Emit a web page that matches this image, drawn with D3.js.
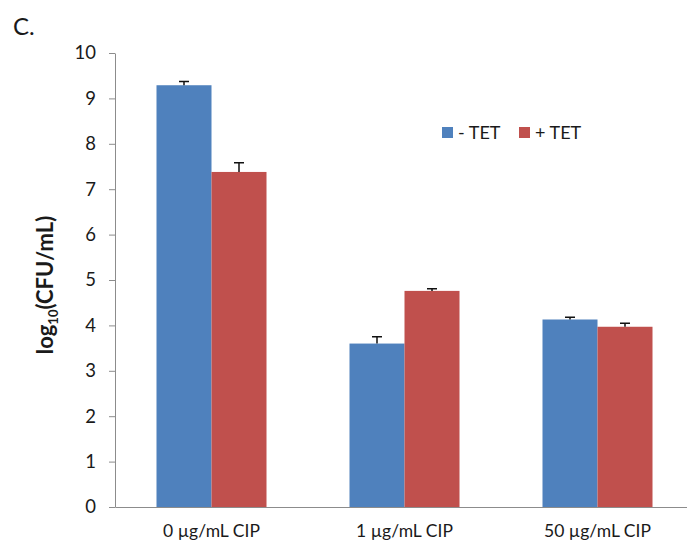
<!DOCTYPE html>
<html>
<head>
<meta charset="utf-8">
<script src="https://cdn.jsdelivr.net/npm/d3@7"></script>
<style>
  body { margin: 0; background: #fff; }
  text { font-family: Lato, "Open Sans", sans-serif; fill: #1a1a1a; }
</style>
</head>
<body>
<div id="chart"></div>
<script>
// values
const categories = ['0 \u00b5g/mL CIP', '1 \u00b5g/mL CIP', '50 \u00b5g/mL CIP'];
const seriesNames = ['- TET', '+ TET'];
const minusTet = [9.29, 3.60, 4.13];
const plusTet = [7.38, 4.76, 3.97];
const minusTetErr = [0.08, 0.15, 0.05];
const plusTetErr = [0.2, 0.05, 0.08];
const yTicks = [0, 1, 2, 3, 4, 5, 6, 7, 8, 9, 10];
const colors = ['#4F81BD', '#C0504D'];

const width = 687, height = 547;
const margin = { top: 53, left: 115, bottom: 39 };

const svg = d3.select('#chart').append('svg')
  .attr('width', width)
  .attr('height', height);

// scales
const x = d3.scaleBand()
  .domain(categories)
  .range([margin.left, margin.left + 579])
  .paddingInner(0.43)
  .paddingOuter(0.215);

const xSub = d3.scaleBand()
  .domain(seriesNames)
  .range([0, x.bandwidth()]);

const y = d3.scaleLinear()
  .domain([0, 10])
  .range([height - margin.bottom - 1, margin.top]);

const rows = categories.map((c, i) => ({
  cat: c,
  vals: [
    { s: seriesNames[0], v: minusTet[i], e: minusTetErr[i] },
    { s: seriesNames[1], v: plusTet[i], e: plusTetErr[i] }
  ]
}));

// bars
const groups = svg.selectAll('g.grp')
  .data(rows)
  .join('g')
  .attr('class', 'grp')
  .attr('transform', d => `translate(${x(d.cat)},0)`);

groups.selectAll('rect')
  .data(d => d.vals)
  .join('rect')
  .attr('x', d => xSub(d.s))
  .attr('y', d => y(d.v))
  .attr('width', xSub.bandwidth())
  .attr('height', d => y(0) - y(d.v))
  .attr('fill', (d, i) => colors[i]);

// error bars (plus side only)
groups.selectAll('path.err')
  .data(d => d.vals)
  .join('path')
  .attr('class', 'err')
  .attr('d', d => {
    const cx = xSub(d.s) + xSub.bandwidth() / 2;
    return `M${cx},${y(d.v)}V${y(d.v + d.e)}M${cx - 5},${y(d.v + d.e)}H${cx + 5}`;
  })
  .attr('stroke', '#111')
  .attr('stroke-width', 1.5)
  .attr('fill', 'none');

// y axis
const yAxis = svg.append('g')
  .attr('transform', `translate(${margin.left},0)`)
  .call(d3.axisLeft(y).tickValues(yTicks).tickSize(6).tickSizeOuter(0).tickPadding(13));
yAxis.select('.domain').attr('stroke', '#8c8c8c');
yAxis.selectAll('.tick line').attr('stroke', '#8c8c8c');
yAxis.selectAll('.tick text')
  .style('font-size', '18.5px')
  .attr('fill', '#1a1a1a');

// x axis
const xAxis = svg.append('g')
  .attr('transform', `translate(0,${y(0)})`)
  .call(d3.axisBottom(x).tickSize(0).tickPadding(18));
xAxis.select('.domain').attr('stroke', '#8c8c8c');
xAxis.selectAll('.tick text')
  .style('font-size', '17.5px')
  .attr('fill', '#1a1a1a');

// y label
const yl = svg.append('text')
  .attr('transform', 'translate(53,285) rotate(-90)')
  .attr('text-anchor', 'middle')
  .style('font-size', '22px')
  .style('font-weight', 'bold');
yl.append('tspan').text('log');
yl.append('tspan').attr('dy', 5).style('font-size', '13px').text('10');
yl.append('tspan').attr('dy', -5).text('(CFU/mL)');

// panel letter
svg.append('text')
  .attr('x', 13)
  .attr('y', 35)
  .style('font-size', '24px')
  .text('C.');

// legend
const legend = svg.append('g').attr('transform', 'translate(442,127)');
seriesNames.forEach((n, i) => {
  const row = legend.append('g').attr('transform', `translate(${i * 77},0)`);
  row.append('rect')
    .attr('width', 11)
    .attr('height', 11)
    .attr('fill', colors[i]);
  row.append('text')
    .attr('x', 16)
    .attr('y', 11.5)
    .style('font-size', '18px')
    .text(n);
});
</script>
</body>
</html>
